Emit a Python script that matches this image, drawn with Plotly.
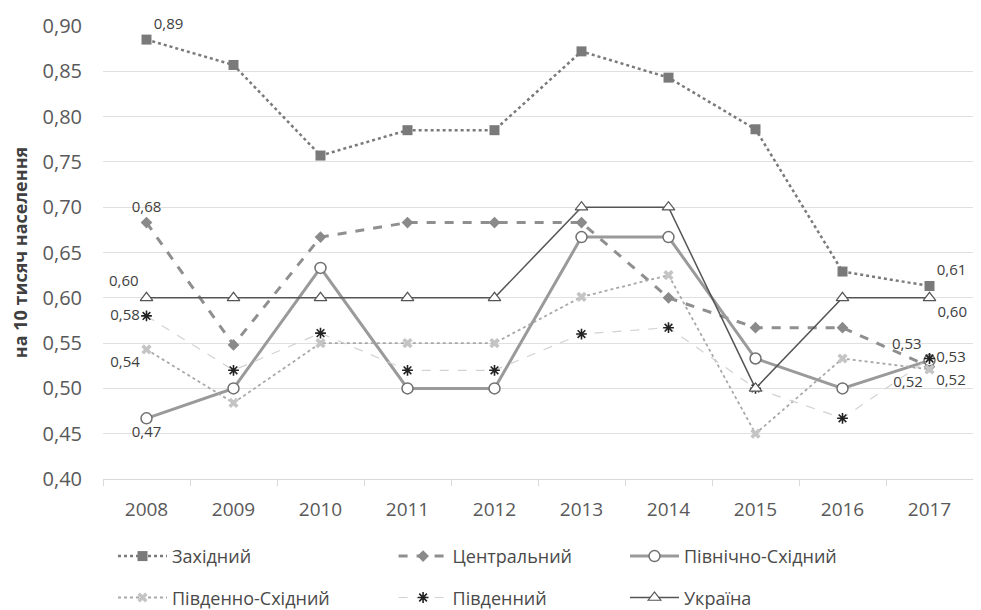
import plotly.graph_objects as go

years = ["2008", "2009", "2010", "2011", "2012", "2013", "2014", "2015", "2016", "2017"]
zakhidnyi = [0.885, 0.857, 0.757, 0.785, 0.785, 0.872, 0.843, 0.786, 0.629, 0.613]
tsentralnyi = [0.683, 0.548, 0.667, 0.683, 0.683, 0.683, 0.600, 0.567, 0.567, 0.524]
pivnichno_skhidnyi = [0.467, 0.500, 0.633, 0.500, 0.500, 0.667, 0.667, 0.533, 0.500, 0.531]
pivdenno_skhidnyi = [0.543, 0.484, 0.550, 0.550, 0.550, 0.601, 0.625, 0.450, 0.533, 0.521]
pivdennyi = [0.580, 0.520, 0.561, 0.520, 0.520, 0.560, 0.567, 0.500, 0.467, 0.533]
ukraina = [0.600, 0.600, 0.600, 0.600, 0.600, 0.700, 0.700, 0.500, 0.600, 0.600]

x = list(range(len(years)))


def labels(vals, idx_pos):
    t = [""] * len(vals)
    p = ["top center"] * len(vals)
    for i, pos in idx_pos:
        t[i] = f"{vals[i]:.2f}".replace(".", ",")
        p[i] = pos
    return t, p


fig = go.Figure()

series = [
    dict(name="Західний", y=zakhidnyi, color="#7a7a7a", width=2.5, dash="dot",
         symbol="square", msize=10, mcolor="#7a7a7a", mline="#7a7a7a", mlw=0,
         lab=[(0, "top right"), (9, "top right")], legend="legend"),
    dict(name="Центральний", y=tsentralnyi, color="#8f8f8f", width=3, dash="dash",
         symbol="diamond", msize=9, mcolor="#8a8a8a", mline="#8a8a8a", mlw=0,
         lab=[(0, "top center"), (9, "bottom right")], legend="legend2"),
    dict(name="Північно-Східний", y=pivnichno_skhidnyi, color="#9a9a9a", width=3, dash="solid",
         symbol="circle", msize=11, mcolor="white", mline="#707070", mlw=1.5,
         lab=[(0, "bottom center"), (9, "top left")], legend="legend3"),
    dict(name="Південно-Східний", y=pivdenno_skhidnyi, color="#a8a8a8", width=1.8, dash="dot",
         symbol="x", msize=9, mcolor="#c4c4c4", mline="#c4c4c4", mlw=0,
         lab=[(0, "bottom left"), (9, "bottom left")], legend="legend"),
    dict(name="Південний", y=pivdennyi, color="#d2d2d2", width=1.2, dash="dash",
         symbol="asterisk-open", msize=9, mcolor="#222222", mline="#222222", mlw=1.6,
         lab=[(0, "middle left"), (9, "middle right")], legend="legend2"),
    dict(name="Україна", y=ukraina, color="#555555", width=1.5, dash="solid",
         symbol="triangle-up", msize=11, mcolor="white", mline="#555555", mlw=1.2,
         lab=[(0, "top left"), (9, "bottom right")], legend="legend3"),
]

for k, s in enumerate(series):
    t, p = labels(s["y"], s["lab"])
    fig.add_trace(go.Scatter(
        x=x, y=s["y"], name=s["name"], mode="lines+markers+text",
        line=dict(color=s["color"], width=s["width"], dash=s["dash"]),
        marker=dict(symbol=s["symbol"], size=s["msize"], color=s["mcolor"],
                    line=dict(color=s["mline"], width=s["mlw"])),
        text=t, textposition=p,
        textfont=dict(size=15, color="#404040", family="Open Sans"),
        legend=s["legend"], legendgroup=f"g{k}", cliponaxis=False,
    ))

leg_common = dict(orientation="v", xanchor="left", yanchor="top", y=-0.130,
                  font=dict(size=18, color="#4a4a4a"), itemwidth=49,
                  tracegroupgap=15, bgcolor="rgba(0,0,0,0)", borderwidth=0)

fig.update_layout(
    width=973, height=602,
    margin=dict(l=95, r=8, t=18, b=131, autoexpand=False),
    paper_bgcolor="white", plot_bgcolor="white",
    separators=", ",
    font=dict(family="Open Sans", color="#595959"),
    showlegend=True,
    legend=dict(x=0.0115, **leg_common),
    legend2=dict(x=0.334, **leg_common),
    legend3=dict(x=0.6, **leg_common),
)

fig.update_xaxes(
    range=[-0.5, 9.5], tickmode="array", tickvals=x, ticktext=years,
    ticks="", showgrid=False, zeroline=False, automargin=False,
    showline=True, linecolor="#d9d9d9", linewidth=1,
    tickfont=dict(size=19, color="#595959"), ticklabelstandoff=13,
    minor=dict(ticks="outside", tick0=-0.5, dtick=1, ticklen=6, tickcolor="#d9d9d9", showgrid=False),
)
fig.update_yaxes(
    range=[0.40, 0.90], dtick=0.05, tickformat=".2f", automargin=False,
    showgrid=True, gridcolor="#e0e0e0", gridwidth=1, zeroline=False,
    tickfont=dict(size=20, color="#595959"), ticks="", ticklen=0, ticklabelstandoff=20,
    title=dict(text="<b>на 10 тисяч населення</b>",
               font=dict(size=18, color="#404040", family="Open Sans"), standoff=12),
)

fig.write_html("out.html")
